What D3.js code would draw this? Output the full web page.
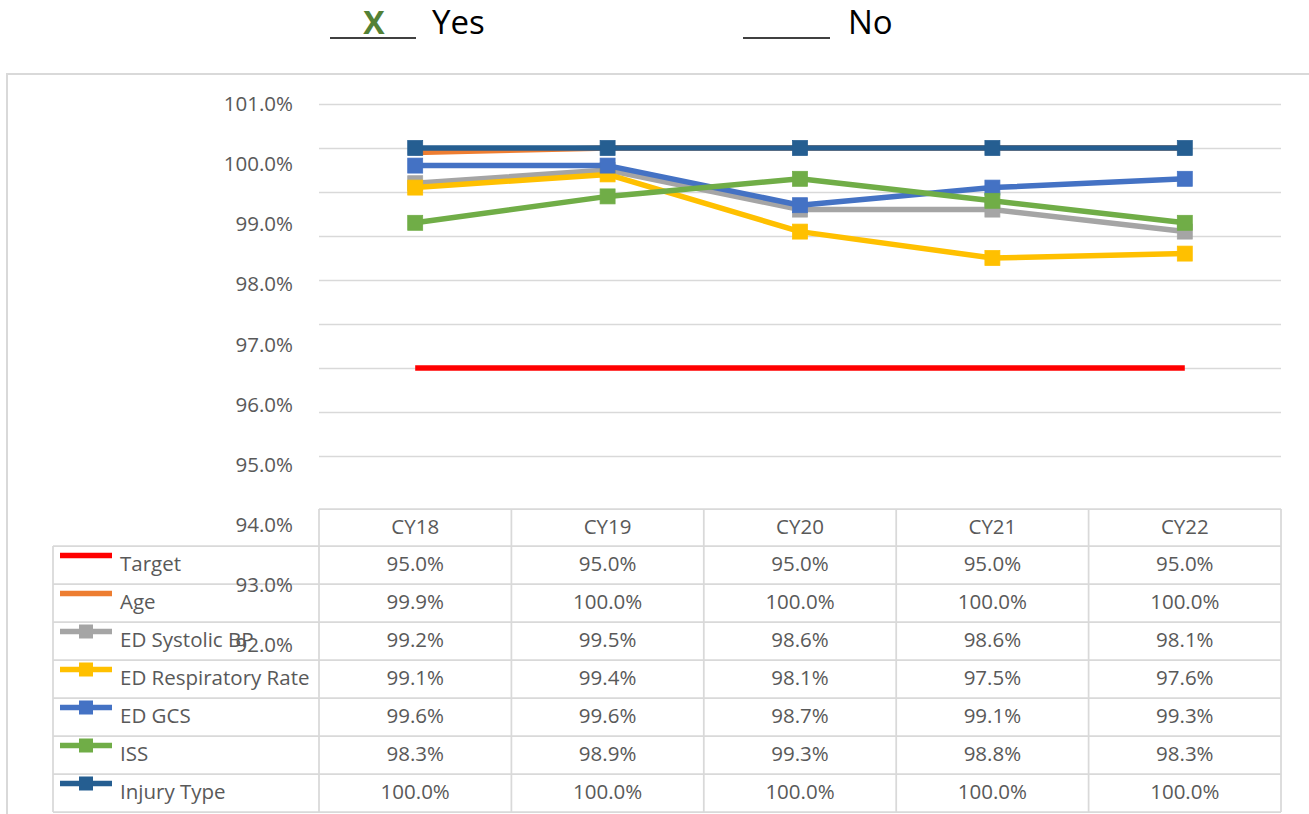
<!DOCTYPE html>
<html>
<head>
<meta charset="utf-8">
<script src="https://cdn.jsdelivr.net/npm/d3@7"></script>
<style>
  html, body { margin: 0; padding: 0; background: #fff; }
  svg { display: block; font-family: "Open Sans", "Noto Sans", sans-serif; }
</style>
</head>
<body>
<svg id="chart" width="1309" height="814"></svg>
<script>
// ---------- data ----------
const categories = ["CY18", "CY19", "CY20", "CY21", "CY22"];
const targetValues      = [95.0, 95.0, 95.0, 95.0, 95.0];
const ageValues         = [99.9, 100.0, 100.0, 100.0, 100.0];
const systolicValues    = [99.2, 99.5, 98.6, 98.6, 98.1];
const respiratoryValues = [99.1, 99.4, 98.1, 97.5, 97.6];
const gcsValues         = [99.6, 99.6, 98.7, 99.1, 99.3];
const issValues         = [98.3, 98.9, 99.3, 98.8, 98.3];
const injuryValues      = [100.0, 100.0, 100.0, 100.0, 100.0];
const seriesNames = ["Target", "Age", "ED Systolic BP", "ED Respiratory Rate", "ED GCS", "ISS", "Injury Type"];
const gridTicks  = [93, 94, 95, 96, 97, 98, 99, 100, 101];
const labelTicks = [92, 93, 94, 95, 96, 97, 98, 99, 100, 101];

// ---------- styles ----------
const series = [
  { name: seriesNames[0], values: targetValues,      color: "#FF0000", marker: false },
  { name: seriesNames[1], values: ageValues,         color: "#ED7D31", marker: false },
  { name: seriesNames[2], values: systolicValues,    color: "#A5A5A5", marker: true },
  { name: seriesNames[3], values: respiratoryValues, color: "#FFC000", marker: true },
  { name: seriesNames[4], values: gcsValues,         color: "#4472C4", marker: true },
  { name: seriesNames[5], values: issValues,         color: "#70AD47", marker: true },
  { name: seriesNames[6], values: injuryValues,      color: "#255E91", marker: true }
];

const svg = d3.select("#chart");
const plotLeft = 319, plotRight = 1281;
const gridColor = "#D9D9D9";
const textColor = "#595959";
const fontSize = 20.5;

// chart outer border
svg.append("rect")
  .attr("x", 7).attr("y", 74).attr("width", 1400).attr("height", 800)
  .attr("fill", "none").attr("stroke", gridColor).attr("stroke-width", 2);

// ---------- top Yes / No ----------
const header = svg.append("g");
header.append("line").attr("x1", 330).attr("x2", 416).attr("y1", 38).attr("y2", 38)
  .attr("stroke", "#000").attr("stroke-width", 1.6);
header.append("text").attr("x", 374).attr("y", 34).attr("text-anchor", "middle")
  .attr("font-size", 32).attr("font-weight", "bold").attr("fill", "#538135").text("X");
header.append("text").attr("x", 432).attr("y", 34)
  .attr("font-size", 33).attr("fill", "#000").text("Yes");
header.append("line").attr("x1", 743).attr("x2", 830).attr("y1", 38).attr("y2", 38)
  .attr("stroke", "#000").attr("stroke-width", 1.6);
header.append("text").attr("x", 848).attr("y", 34)
  .attr("font-size", 33).attr("fill", "#000").text("No");

// ---------- scales ----------
const x = d3.scaleBand().domain(categories).range([plotLeft, plotRight]);
const y = d3.scaleLinear().domain([92, 101]).range([500, 104]);
// the axis labels in the reference are spaced differently from the gridlines
const yLabel = d3.scaleLinear().domain([92, 101]).range([645, 104]);

// gridlines
svg.append("g")
  .attr("transform", `translate(${plotLeft},0)`)
  .call(d3.axisLeft(y).tickValues(gridTicks).tickSize(-(plotRight - plotLeft)).tickFormat(""))
  .call(g => g.select(".domain").remove())
  .call(g => g.selectAll(".tick line").attr("stroke", gridColor).attr("stroke-width", 1.5));

// ---------- table ----------
const tableTop = 509, headerH = 37, rowH = 38, legendLeft = 53;
const rowsTop = tableTop + headerH;
const tableBottom = rowsTop + rowH * series.length;
const table = svg.append("g");
const colEdges = categories.map(c => x(c)).concat([plotRight]);

table.append("line").attr("x1", plotLeft).attr("x2", plotRight)
  .attr("y1", tableTop).attr("y2", tableTop)
  .attr("stroke", gridColor).attr("stroke-width", 1.75);
table.selectAll("line.h").data(d3.range(series.length + 1)).join("line")
  .attr("class", "h")
  .attr("x1", legendLeft).attr("x2", plotRight)
  .attr("y1", i => rowsTop + i * rowH).attr("y2", i => rowsTop + i * rowH)
  .attr("stroke", gridColor).attr("stroke-width", 1.75);
table.selectAll("line.v").data(colEdges).join("line")
  .attr("class", "v")
  .attr("x1", d => d).attr("x2", d => d)
  .attr("y1", tableTop).attr("y2", tableBottom)
  .attr("stroke", gridColor).attr("stroke-width", 1.75);
table.append("line").attr("x1", legendLeft).attr("x2", legendLeft)
  .attr("y1", rowsTop).attr("y2", tableBottom)
  .attr("stroke", gridColor).attr("stroke-width", 1.75);

// header
table.selectAll("text.hdr").data(categories).join("text")
  .attr("class", "hdr")
  .attr("x", d => x(d) + x.bandwidth() / 2)
  .attr("y", tableTop + headerH / 2)
  .attr("dy", "0.33em")
  .attr("text-anchor", "middle")
  .attr("font-size", fontSize).attr("fill", textColor)
  .text(d => d);

const fmt = v => d3.format(".1f")(v) + "%";
series.forEach((s, i) => {
  const rowY = rowsTop + i * rowH;
  const cy = rowY + rowH / 2;
  table.selectAll(null).data(s.values).join("text")
    .attr("x", (d, j) => x(categories[j]) + x.bandwidth() / 2)
    .attr("y", cy).attr("dy", "0.3em")
    .attr("text-anchor", "middle")
    .attr("font-size", fontSize).attr("fill", textColor)
    .text(d => fmt(d));
  // legend key
  const ky = rowY + 9.5;
  table.append("line").attr("x1", 60).attr("x2", 112).attr("y1", ky).attr("y2", ky)
    .attr("stroke", s.color).attr("stroke-width", 5.5);
  if (s.marker) {
    table.append("rect").attr("x", 86 - 7).attr("y", ky - 7).attr("width", 14).attr("height", 14)
      .attr("fill", s.color);
  }
  table.append("text").attr("x", 120).attr("y", cy).attr("dy", "0.3em")
    .attr("font-size", fontSize).attr("fill", textColor).text(s.name);
});

// ---------- y labels ----------
svg.append("g")
  .attr("transform", "translate(293,0)")
  .call(d3.axisLeft(yLabel).tickValues(labelTicks).tickSize(0).tickPadding(0)
    .tickFormat(d => d3.format(".1f")(d) + "%"))
  .call(g => g.select(".domain").remove())
  .call(g => g.selectAll("text").attr("font-size", fontSize).attr("fill", textColor)
    .attr("font-family", "'Open Sans', 'Noto Sans', sans-serif"));

// ---------- lines ----------
const cx = c => x(c) + x.bandwidth() / 2;
const lineGen = d3.line().x((d, j) => cx(categories[j])).y(d => y(d));
const plot = svg.append("g");
series.forEach(s => {
  plot.append("path").datum(s.values)
    .attr("d", lineGen)
    .attr("fill", "none").attr("stroke", s.color)
    .attr("stroke-width", 5.5).attr("stroke-linejoin", "round");
  if (s.marker) {
    plot.selectAll(null).data(s.values).join("rect")
      .attr("x", (d, j) => cx(categories[j]) - 7.5)
      .attr("y", d => y(d) - 7.5)
      .attr("width", 15).attr("height", 15)
      .attr("fill", s.color).attr("stroke", s.color).attr("stroke-width", 0.75);
  }
});
</script>
</body>
</html>
